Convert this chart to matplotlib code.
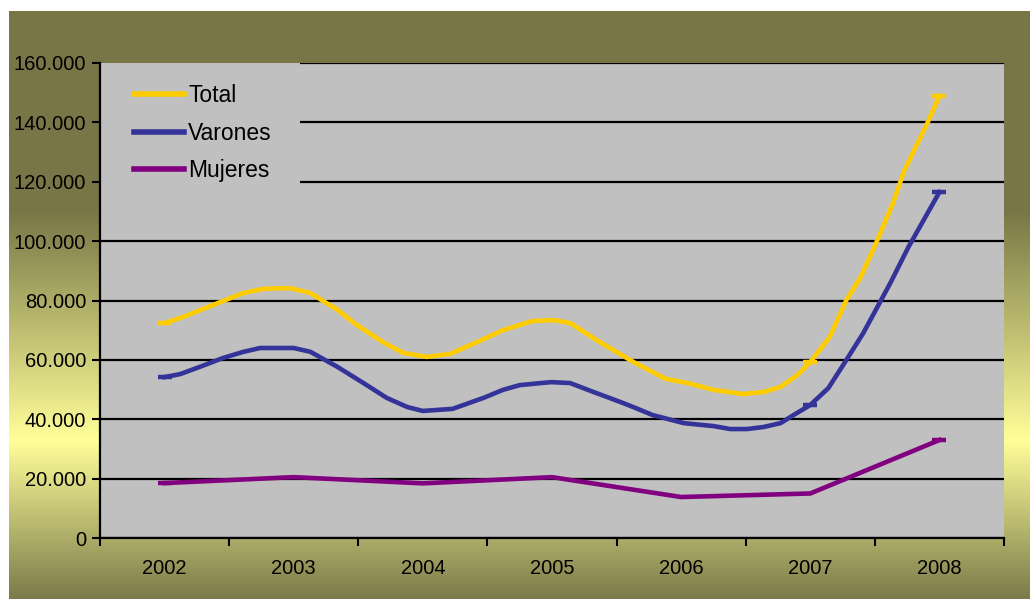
import matplotlib
matplotlib.use('Agg')
import matplotlib.pyplot as plt
import numpy as np
from matplotlib.patches import Rectangle
from matplotlib.ticker import FuncFormatter

plt.rcParams['font.family'] = ['Liberation Sans', 'DejaVu Sans']

# data (curves are traced, so points sit between years too)
years = [2002, 2003, 2004, 2005, 2006, 2007, 2008]

total_t = [2002.0, 2002.14, 2002.41, 2002.61, 2002.76, 2002.97, 2003.13, 2003.34,
           2003.49, 2003.69, 2003.85, 2004.03, 2004.21, 2004.42, 2004.62, 2004.85,
           2005.01, 2005.14, 2005.37, 2005.63, 2005.88, 2006.05, 2006.25, 2006.48,
           2006.64, 2006.77, 2006.90, 2007.0, 2007.15, 2007.28, 2007.39, 2007.52,
           2007.64, 2007.73, 2007.91, 2008.0]
total_v = [72400, 74400, 79100, 82500, 83900, 84200, 82500, 76800,
           71700, 66000, 62300, 61000, 62000, 66000, 70000, 73100,
           73400, 72400, 66000, 59300, 53600, 52200, 49900, 48500,
           49200, 50900, 54900, 59300, 67700, 80200, 87900, 100400,
           112800, 124000, 140100, 148900]

varones_t = [2002.0, 2002.12, 2002.27, 2002.45, 2002.61, 2002.74, 2003.0, 2003.13,
             2003.34, 2003.54, 2003.72, 2003.88, 2004.0, 2004.23, 2004.47, 2004.62,
             2004.75, 2004.99, 2005.14, 2005.32, 2005.53, 2005.63, 2005.78, 2006.02,
             2006.25, 2006.38, 2006.51, 2006.64, 2006.77, 2006.87, 2007.0, 2007.14,
             2007.28, 2007.41, 2007.62, 2007.76, 2008.0]
varones_v = [54200, 55200, 57600, 60600, 62700, 64000, 64000, 62700,
             57600, 52200, 47200, 44100, 42800, 43500, 47200, 49900,
             51500, 52500, 52200, 49200, 45800, 44100, 41400, 38700,
             37700, 36700, 36700, 37400, 38700, 41400, 44800, 50500,
             60000, 69000, 85900, 98000, 116500]

mujeres_t = years
mujeres_v = [18500, 20500, 18400, 20500, 13800, 15000, 33000]

marker_years = {'Total': [2002, 2007, 2008],
                'Varones': [2002, 2007, 2008],
                'Mujeres': [2002, 2008]}

series = [('Total', total_t, total_v, '#FFCC00'),
          ('Varones', varones_t, varones_v, '#333399'),
          ('Mujeres', mujeres_t, mujeres_v, '#800080')]

W, H = 1030, 599
fig = plt.figure(figsize=(W / 100, H / 100), dpi=100)

# background gradient (olive -> light yellow -> olive)
bg = fig.add_axes([9 / W, 0, (W - 9) / W, (H - 11) / H], zorder=0)
rows = np.arange(11, H)
stops_y = [11, 210, 440, 599]
olive = (120, 118, 70)
yellow = (255, 255, 153)
stops_c = [olive, olive, yellow, (122, 121, 74)]
grad = np.zeros((len(rows), 1, 3))
for ch in range(3):
    grad[:, 0, ch] = np.interp(rows, stops_y, [c[ch] for c in stops_c]) / 255
bg.imshow(grad, aspect='auto', extent=[0, 1, 0, 1])
bg.axis('off')

ax = fig.add_axes([100 / W, (H - 538) / H, 904 / W, 475 / H], zorder=1)
ax.set_facecolor('#C0C0C0')

for name, t, v, col in series:
    ax.plot(t, v, color=col, lw=3.3, solid_joinstyle='round', zorder=4, label=name)
    mt = marker_years[name]
    mv = np.interp(mt, t, v)
    ax.plot(mt, mv, ls='none', marker='_', ms=10, mew=3.2, color=col, zorder=4)

ax.set_xlim(years[0] - 0.5, years[-1] + 0.5)
ax.set_ylim(0, 160000)
ax.set_yticks(np.arange(0, 160001, 20000))
ax.yaxis.set_major_formatter(FuncFormatter(lambda v, p: f'{int(v):,}'.replace(',', '.')))
ax.set_xticks(np.arange(years[0] - 0.5, years[-1] + 1, 1.0))
ax.set_xticklabels([])
ax.set_xticks(years, minor=True)
ax.set_xticklabels([str(y) for y in years], minor=True)
ax.tick_params(axis='x', which='minor', length=0, pad=15, labelsize=14.5)
ax.tick_params(axis='x', which='major', length=6, width=1.5, direction='out')
ax.tick_params(axis='y', length=6, width=1.5, direction='out', labelsize=14.5, pad=4)
ax.grid(axis='y', color='black', lw=1.6, zorder=1)
ax.set_axisbelow(True)
ax.spines['right'].set_visible(False)
ax.spines['top'].set_visible(False)
ax.spines['left'].set_linewidth(1.6)
ax.spines['bottom'].set_linewidth(1.6)

# legend sits on a grey patch that covers the gridlines
y0 = (538 - 200) / 475
ax.add_patch(Rectangle((0, y0), 200 / 904, 1 - y0, transform=ax.transAxes,
                       facecolor='#C0C0C0', edgecolor='none', zorder=2))
leg = ax.legend(loc='upper left', bbox_to_anchor=(0.027, 0.975), frameon=False,
                fontsize=16.5, handlelength=2.2, handletextpad=0.18,
                labelspacing=0.64, borderaxespad=0)
leg.set_zorder(5)
for ln in leg.get_lines():
    ln.set_linewidth(4)

fig.savefig('out.png', dpi=100)
